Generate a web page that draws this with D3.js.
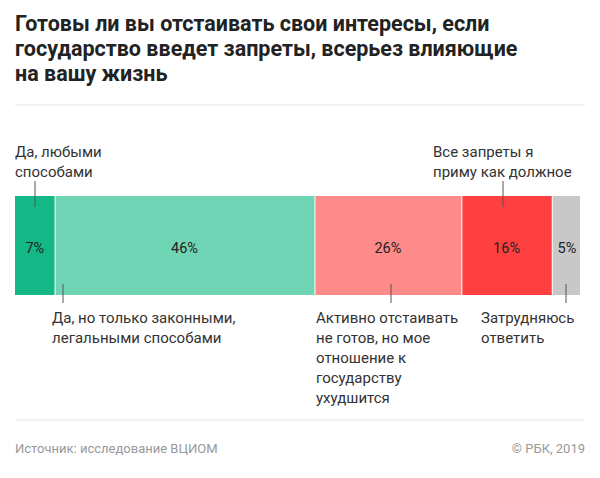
<!DOCTYPE html><html><head><meta charset="utf-8"><script src="https://cdn.jsdelivr.net/npm/d3@7"></script>
<style>body{margin:0;background:#fff}text{font-family:Roboto,"Noto Sans",sans-serif}</style></head><body><svg id="c" width="600" height="478"></svg><script>
const categories=["Да, любыми способами","Да, но только законными, легальными способами","Активно отстаивать не готов, но мое отношение к государству ухудшится","Все запреты я приму как должное","Затрудняюсь ответить"];
const values=[7,46,26,16,5];
const colors=["#13b886","#6fd5b5","#ff8a8a","#ff4040","#c8c8c8"];
const labelLines=[["Да, любыми","способами"],["Да, но только законными,","легальными способами"],["Активно отстаивать","не готов, но мое","отношение к","государству","ухудшится"],["Все запреты я","приму как должное"],["Затрудняюсь","ответить"]];
const labelPos=["top","bottom","bottom","top","bottom"];
const svg=d3.select("#c");
["Готовы ли вы отстаивать свои интересы, если","государство введет запреты, всерьез влияющие","на вашу жизнь"].forEach((t,i)=>svg.append("text").attr("x",15).attr("y",31+i*25).attr("font-size",21.5).attr("font-weight",700).attr("fill","#222").attr("textLength",null).text(t));
svg.append("line").attr("x1",15).attr("x2",585).attr("y1",105).attr("y2",105).attr("stroke","#e6e6e6");
const x=d3.scaleLinear().domain([0,d3.sum(values)]).range([15,580]);
let cum=0;const segs=values.map((v,i)=>{const s={i,v,x0:cum,x1:cum+v};cum+=v;return s;});
const y0=196,y1=295;
svg.selectAll("rect.s").data(segs).enter().append("rect").attr("x",d=>x(d.x0)+(d.i?1:0)).attr("width",d=>x(d.x1)-x(d.x0)-(d.i?1:0)).attr("y",y0).attr("height",y1-y0).attr("fill",d=>colors[d.i]);
svg.selectAll("text.v").data(segs).enter().append("text").attr("x",d=>(x(d.x0)+x(d.x1))/2+(d.i==4?1:0)).attr("y",253).attr("text-anchor","middle").attr("font-size",14.5).attr("fill","#222").text(d=>d.v+"%");
const lx=[35,63,391,503,566];
const tx=[15,52,316,433,481];
segs.forEach(d=>{const i=d.i;
 if(labelPos[i]=="top"){svg.append("line").attr("x1",lx[i]).attr("x2",lx[i]).attr("y1",181).attr("y2",207).attr("stroke","#555");
  labelLines[i].forEach((t,k)=>svg.append("text").attr("x",tx[i]).attr("y",157+k*20).attr("font-size",15).attr("fill","#333").text(t));}
 else{svg.append("line").attr("x1",lx[i]).attr("x2",lx[i]).attr("y1",284).attr("y2",303).attr("stroke","#555");
  labelLines[i].forEach((t,k)=>svg.append("text").attr("x",tx[i]).attr("y",323+k*20).attr("font-size",15).attr("fill","#333").text(t));}
});
svg.append("line").attr("x1",15).attr("x2",585).attr("y1",420).attr("y2",420).attr("stroke","#e6e6e6");
svg.append("text").attr("x",15).attr("y",453).attr("font-size",13).attr("fill","#999").text("Источник: исследование ВЦИОМ");
svg.append("text").attr("x",585).attr("y",453).attr("text-anchor","end").attr("font-size",13).attr("fill","#999").text("© РБК, 2019");
</script></body></html>
